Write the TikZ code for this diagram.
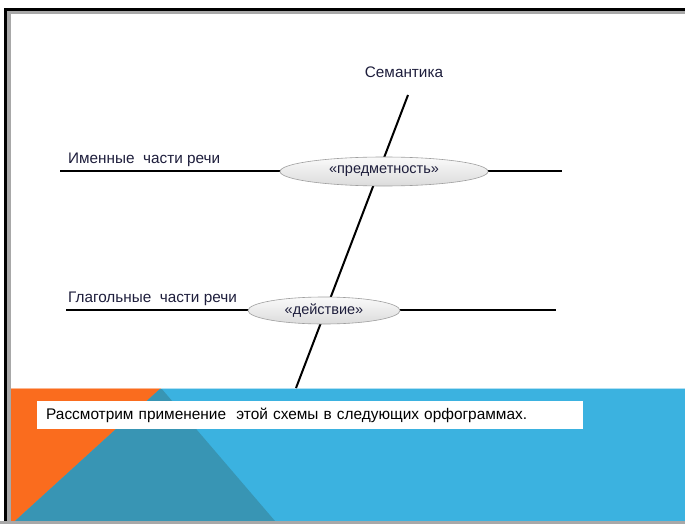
\documentclass[tikz,border=0pt]{standalone}
\usepackage{fontspec}
\setmainfont{Liberation Sans}
\usetikzlibrary{shapes.geometric}

\definecolor{slideorange}{RGB}{250,108,30}
\definecolor{slideteal}{RGB}{56,149,180}
\definecolor{slideblue}{RGB}{59,178,224}
\definecolor{framegray}{RGB}{168,168,168}
\definecolor{inkblue}{RGB}{30,30,60}

\tikzset{
  axis/.style={line width=2pt, black},
  feature/.style={ellipse, draw=gray!75, line width=0.6pt, top color=gray!4, bottom color=gray!28,
    inner sep=0pt, text=inkblue, font=\fontsize{14.5}{16}\selectfont},
  caption/.style={text=inkblue, inner sep=0pt, font=\fontsize{15.3}{17}\selectfont},
}

\begin{document}
\begin{tikzpicture}[x=1pt,y=-1pt]
  \useasboundingbox (0,0) rectangle (685,524);
  \fill[white] (0,0) rectangle (685,524);
  \fill[framegray] (7,11) rectangle (685,524);
  \fill[white] (11,14.5) rectangle (685,388);
  \fill[black] (4,8) rectangle (7,524);
  \fill[black] (4,8) rectangle (685,11);
  \begin{scope}
    \fill[slideblue] (11,388) rectangle (685,521);
    \fill[slideorange] (11,388) -- (161,388) -- (15,521) -- (11,521) -- cycle;
    \fill[slideteal] (161,388) -- (275,521) -- (15,521) -- cycle;
    \draw[slideblue!40, line width=0.8pt] (161,388.4) -- (685,388.4);
    \draw[slideorange!50, line width=0.8pt] (11,388.4) -- (161,388.4);
  \end{scope}
  \fill[framegray] (0,521) rectangle (685,524);

  \coordinate (semtop) at (408,95);
  \coordinate (sembot) at (296,388);
  \coordinate (nounw) at (60,171);
  \coordinate (noune) at (562,171);
  \coordinate (verbw) at (66,310);
  \coordinate (verbe) at (556,310);
  \draw[axis] (semtop) -- (sembot);
  \draw[axis] (nounw) -- (noune);
  \draw[axis] (verbw) -- (verbe);
  \node[caption] (sem) at (404,72) {Семантика};
  \node[caption, anchor=base west] (nounlbl) at (68,163) {Именные\ \ части речи};
  \node[caption, anchor=base west] (verblbl) at (68,302) {Глагольные\ \ части речи};
  \node[feature, minimum width=208, minimum height=29] (obj) at (384,171.5) {«предметность»};
  \node[feature, minimum width=152, minimum height=27] (act) at (324,310.5) {«действие»};

  \node[caption, fill=white, anchor=west, minimum width=546, minimum height=28,
    text width=536, align=left, inner xsep=5, text=black,
    font=\fontsize{15.4}{17}\selectfont] (note) at (37,415)
    {\hspace*{4pt}Рассмотрим применение\ \ этой схемы в следующих орфограммах.};
\end{tikzpicture}
\end{document}
